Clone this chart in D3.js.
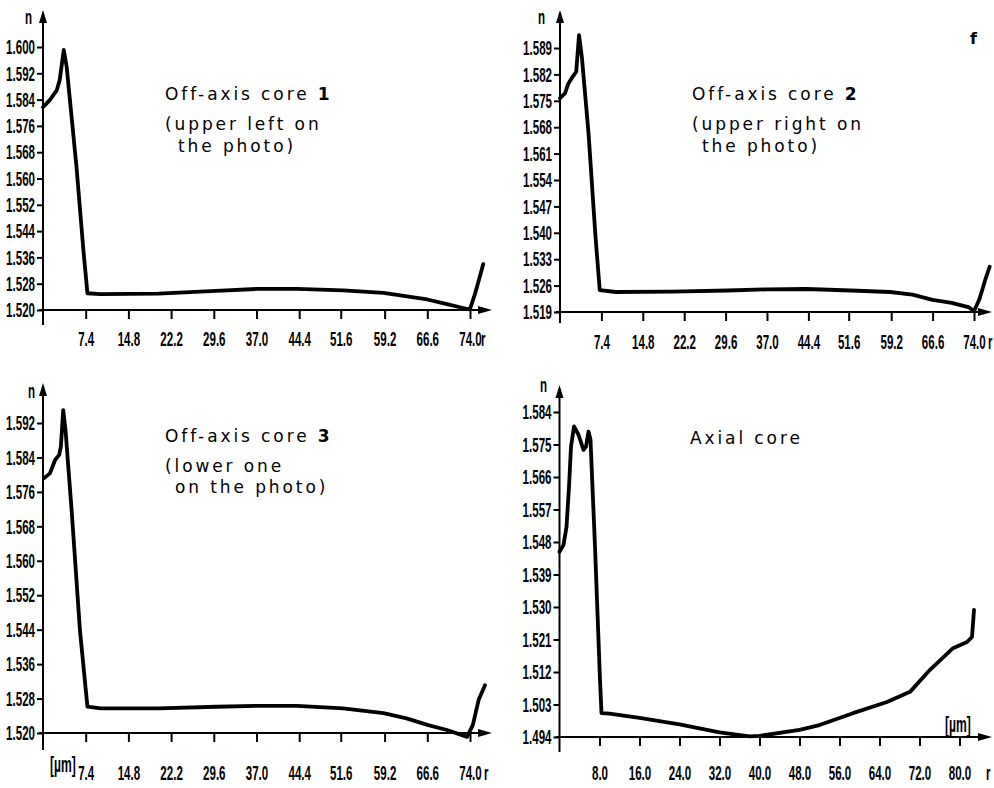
<!doctype html>
<html lang="en">
<head>
  <meta charset="utf-8">
  <title>Refractive index profiles of the cores</title>
  <script type="text/javascript" src="https://cdnjs.cloudflare.com/ajax/libs/d3/7.8.5/d3.min.js"></script>
  <style>
    body { margin: 0; background: #fff; }
    .tick line { stroke: #000; stroke-width: 2; }
    .tick text, .lbl { font-family: 'Liberation Sans', Arial, sans-serif; font-weight: bold; font-size: 21px; fill: #000; }
    .note { font-family: 'DejaVu Sans', sans-serif; font-size: 17px; letter-spacing: 2.9px; fill: #000; }
  </style>
</head>
<body>
  <svg width="994" height="788" id="svg"></svg>

<script type="text/javascript">

  // tick labels
  var offAxisXLabels = ['7.4','14.8','22.2','29.6','37.0','44.4','51.6','59.2','66.6','74.0'];
  var axialXLabels = ['8.0','16.0','24.0','32.0','40.0','48.0','56.0','64.0','72.0','80.0'];
  var core1YLabels = ['1.520','1.528','1.536','1.544','1.552','1.560','1.568','1.576','1.584','1.592','1.600'];
  var core2YLabels = ['1.519','1.526','1.533','1.540','1.547','1.554','1.561','1.568','1.575','1.582','1.589'];
  var core3YLabels = ['1.520','1.528','1.536','1.544','1.552','1.560','1.568','1.576','1.584','1.592'];
  var axialYLabels = ['1.494','1.503','1.512','1.521','1.530','1.539','1.548','1.557','1.566','1.575','1.584'];

  // profiles: radius r [um] and index n
  var core1R = [0, 1.2, 2.4, 2.9, 3.6, 4.1, 5.8, 7.0, 7.7, 10, 20, 30, 37, 44, 52, 59, 66.6, 70, 73.5, 74.0, 74.8, 75.6, 76.3];
  var core1N = [1.5817, 1.5839, 1.5869, 1.5900, 1.5991, 1.5940, 1.5636, 1.5382, 1.5251, 1.5248, 1.5250, 1.5258, 1.5264, 1.5264, 1.5260, 1.5252, 1.5232, 1.5218, 1.5203, 1.5203, 1.5245, 1.5295, 1.5340];

  var core2R = [0, 0.9, 1.5, 2.1, 2.9, 3.4, 3.9, 5.1, 6.3, 7.1, 10, 20, 30, 37, 44, 52, 59, 63, 66.6, 70, 73, 74, 75, 76, 76.8];
  var core2N = [1.5757, 1.5770, 1.5796, 1.5810, 1.5827, 1.5924, 1.5867, 1.5664, 1.5399, 1.5248, 1.5243, 1.5244, 1.5247, 1.5250, 1.5251, 1.5247, 1.5243, 1.5236, 1.5222, 1.5214, 1.5203, 1.5192, 1.5225, 1.5275, 1.5310];

  var core3R = [0.2, 1.2, 2.1, 2.8, 3.1, 3.5, 3.9, 5.0, 6.4, 7.7, 10, 20, 30, 37, 44, 52, 59, 63, 66.6, 70, 73.5, 74.5, 75.5, 76.6];
  var core3N = [1.5792, 1.5803, 1.5834, 1.5846, 1.5865, 1.5950, 1.5904, 1.5710, 1.5439, 1.5261, 1.5257, 1.5257, 1.5261, 1.5263, 1.5263, 1.5257, 1.5246, 1.5234, 1.5219, 1.5207, 1.5191, 1.5219, 1.5277, 1.5311];

  var axialR = [0, 0.8, 1.4, 1.9, 2.3, 2.9, 3.8, 4.8, 5.3, 5.8, 6.2, 7.1, 8.1, 8.4, 10, 16, 24, 32, 38, 40, 48, 52, 58.7, 65.5, 70.1, 74.1, 78.7, 81.5, 82.5, 82.9];
  var axialN = [1.5453, 1.5472, 1.5522, 1.5633, 1.5744, 1.5800, 1.5777, 1.5735, 1.5744, 1.5786, 1.5763, 1.5467, 1.5098, 1.5006, 1.5005, 1.4993, 1.4975, 1.4953, 1.4942, 1.4943, 1.4960, 1.4973, 1.5006, 1.5037, 1.5065, 1.5126, 1.5186, 1.5203, 1.5217, 1.5292];

  var panels = [
    { r: core1R, n: core1N, yLabels: core1YLabels, xLabels: offAxisXLabels, xMax: 74,
      xRange: [43, 470], yRange: [310, 47], top: 10, bottom: 325, tip: 492, labelDy: 36,
      nPos: [25, 24], rPos: [481, 346], unit: null,
      notes: [[165, 100, 'Off-axis core ', '1'], [165, 130, '(upper left on', ''], [178, 152, 'the photo)', '']] },
    { r: core2R, n: core2N, yLabels: core2YLabels, xLabels: offAxisXLabels, xMax: 74,
      xRange: [560, 974], yRange: [312, 48], top: 10, bottom: 323, tip: 992, labelDy: 37,
      nPos: [538, 24], rPos: [988, 349], unit: null,
      notes: [[692, 100, 'Off-axis core ', '2'], [692, 130, '(upper right on', ''], [702, 152, 'the photo)', '']] },
    { r: core3R, n: core3N, yLabels: core3YLabels, xLabels: offAxisXLabels, xMax: 74,
      xRange: [43, 470], yRange: [733, 423], top: 383, bottom: 750, tip: 492, labelDy: 47,
      nPos: [28, 398], rPos: [484, 780], unit: [50, 772],
      notes: [[165, 442, 'Off-axis core ', '3'], [165, 472, '(lower one', ''], [175, 493, 'on the photo)', '']] },
    { r: axialR, n: axialN, yLabels: axialYLabels, xLabels: axialXLabels, xMax: 80,
      xRange: [559.5, 959.5], yRange: [737, 412], top: 385, bottom: 752, tip: 992, labelDy: 43,
      nPos: [540, 392], rPos: [986, 780], unit: [945, 732],
      notes: [[690, 444, 'Axial core', '']] }
  ];

  var svg = d3.select('#svg');
  var sx = 0.55;

  // narrow text helper: squeeze horizontally around its own x
  function squeeze(sel, x0) {
    sel.attr('transform', 'translate(' + x0 * (1 - sx) + ',0) scale(' + sx + ',1)').attr('x', x0);
  }

  panels.forEach(function(p) {
    var yVals = p.yLabels.map(Number);
    var x = d3.scaleLinear().domain([0, p.xMax]).range(p.xRange);
    var y = d3.scaleLinear().domain([yVals[0], yVals[yVals.length - 1]]).range(p.yRange);
    var g = svg.append('g');
    var x0 = p.xRange[0], base = p.yRange[0];

    // axes lines with arrows
    g.append('line').attr('x1', x0).attr('x2', x0).attr('y1', p.bottom).attr('y2', p.top + 8)
      .attr('stroke', '#000').attr('stroke-width', 2);
    g.append('path').attr('d', 'M' + x0 + ',' + p.top + 'l-4,13l8,0z').attr('fill', '#000');
    g.append('line').attr('x1', x0 - 4).attr('x2', p.tip - 8).attr('y1', base).attr('y2', base)
      .attr('stroke', '#000').attr('stroke-width', 2);
    g.append('path').attr('d', 'M' + p.tip + ',' + base + 'l-14,-4l0,8z').attr('fill', '#000');

    var ya = g.append('g').attr('transform', 'translate(' + x0 + ',0)')
      .call(d3.axisLeft(y).tickValues(yVals).tickFormat(function(d, i) { return p.yLabels[i]; }).tickSize(6));
    ya.select('.domain').remove();
    ya.selectAll('text').attr('transform', 'scale(' + sx + ',1)').attr('x', -8 / sx);

    var xVals = p.xLabels.map(Number);
    var xa = g.append('g').attr('transform', 'translate(0,' + base + ')')
      .call(d3.axisBottom(x).tickValues(xVals).tickFormat(function(d, i) { return p.xLabels[i]; }).tickSize(9));
    xa.select('.domain').remove();
    xa.selectAll('text').attr('transform', 'scale(' + sx + ',1)').attr('y', p.labelDy).attr('dy', null);

    g.append('text').attr('class', 'lbl').attr('y', p.nPos[1]).text('n').call(squeeze, p.nPos[0]);
    g.append('text').attr('class', 'lbl').attr('y', p.rPos[1]).text('r').call(squeeze, p.rPos[0]);
    if (p.unit) {
      g.append('text').attr('class', 'lbl').attr('y', p.unit[1]).style('font-size', '22px')
        .text('[\u00b5m]').call(squeeze, p.unit[0]);
    }

    var line = d3.line()
      .x(function(d, i) { return x(p.r[i]); })
      .y(function(d, i) { return y(p.n[i]); });
    g.append('path').datum(p.n).attr('d', line)
      .attr('fill', 'none').attr('stroke', '#000').attr('stroke-width', 3.8)
      .attr('stroke-linejoin', 'round').attr('stroke-linecap', 'round');

    p.notes.forEach(function(t) {
      var txt = g.append('text').attr('class', 'note').attr('x', t[0]).attr('y', t[1]);
      txt.append('tspan').text(t[2]);
      if (t[3]) txt.append('tspan').style('font-weight', 'bold').text(t[3]);
    });
  });

  svg.append('text').attr('x', 970).attr('y', 44).style('font-family', 'DejaVu Sans')
    .style('font-weight', 'bold').style('font-size', '16px').text('f');

</script>
</body>
</html>
